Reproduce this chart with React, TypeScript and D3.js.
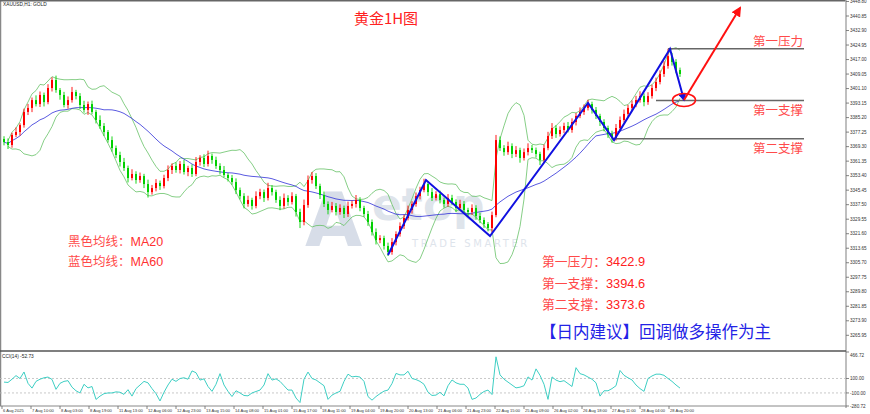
import React from "react";
import * as d3 from "d3";

// ---------- data ----------
const firstOpen = 3373.5;
const closes = [
  3371.8,3370.2,3375.7,3377.3,3381.1,3388.3,3390.5,3394.8,3392.6,3397.6,
  3393.7,3401.4,3405.8,3400.3,3397.6,3392.1,3394.8,3399.2,3397.0,3392.1,
  3389.4,3392.6,3388.3,3383.9,3380.6,3377.3,3372.9,3368.5,3364.7,3360.9,
  3357.6,3352.1,3354.3,3351.0,3353.2,3348.8,3344.4,3346.6,3349.4,3347.7,
  3352.1,3356.5,3358.7,3356.5,3359.8,3355.4,3357.6,3354.3,3360.9,3363.1,
  3359.8,3364.2,3362.0,3358.7,3356.5,3353.8,3352.1,3349.9,3345.5,3342.2,
  3337.9,3340.1,3336.8,3342.2,3344.4,3341.2,3346.6,3344.4,3340.1,3336.8,
  3341.2,3339.0,3342.2,3333.5,3328.0,3337.3,3351.0,3353.2,3347.7,3342.8,
  3337.9,3334.6,3336.8,3333.5,3335.7,3332.4,3336.8,3337.9,3340.1,3335.7,
  3332.4,3328.0,3322.5,3318.1,3319.2,3314.9,3311.6,3317.0,3321.4,3325.8,
  3330.2,3334.6,3337.9,3342.2,3345.5,3348.8,3344.4,3341.2,3343.3,3340.1,
  3337.9,3341.2,3339.0,3335.7,3337.9,3334.6,3333.5,3335.7,3331.3,3329.1,
  3326.9,3324.7,3331.8,3372.9,3368.5,3366.3,3369.6,3365.3,3367.4,3363.1,
  3366.3,3368.5,3367.4,3365.3,3362.0,3368.5,3375.1,3379.5,3376.2,3378.4,
  3380.6,3378.4,3382.8,3386.1,3388.3,3390.5,3392.6,3389.4,3386.1,3382.8,
  3379.5,3376.2,3374.0,3379.5,3383.9,3387.2,3390.5,3392.6,3394.8,3397.0,
  3393.7,3397.0,3401.4,3404.7,3409.1,3413.5,3418.9,3415.7,3411.3,3409.1,
];
const wickUp = [
  1.5,2.0,1.2,2.5,1.0,1.8,2.2,1.4,2.6,1.9,
  1.3,2.1,1.5,2.4,1.1,1.7,2.0,2.8,1.2,1.6,
  2.3,1.4,1.9,1.2,2.5,1.6,1.1,2.0,1.4,1.8,
  2.2,1.3,2.6,1.5,1.9,1.2,2.4,1.7,2.1,1.3,
  1.8,2.5,1.4,2.0,1.6,2.3,1.2,1.9,2.7,1.5,
  2.0,2.9,1.3,1.8,1.5,2.2,1.1,1.7,2.0,1.4,
  1.6,2.3,1.2,2.6,1.8,1.4,2.9,1.6,1.3,2.0,
  2.4,1.5,2.1,1.2,1.8,3.0,2.5,2.2,1.6,1.3,
  1.9,1.4,2.2,1.6,2.0,1.3,2.4,1.8,2.7,1.5,
  1.2,1.7,1.4,2.0,1.6,1.3,1.8,2.2,1.5,2.0,
  1.7,2.4,1.5,2.0,1.8,2.9,1.4,2.2,1.6,1.9,
  1.3,2.1,1.7,1.4,2.3,1.6,1.2,2.0,1.5,1.8,
  1.4,1.1,1.9,2.8,2.0,1.6,2.4,1.5,2.2,1.3,
  2.0,2.6,1.7,1.4,1.2,1.9,2.3,2.7,1.5,2.0,
  1.8,2.2,2.0,1.6,2.5,1.9,2.4,1.3,1.6,1.2,
  1.5,1.3,1.8,2.2,1.9,2.4,1.7,2.0,2.3,2.6,
  1.5,2.1,1.8,2.4,2.0,2.6,4.0,1.8,1.5,1.3,
];
const wickDown = [
  1.8,2.2,1.5,1.2,2.0,1.4,1.7,2.3,1.3,1.6,
  2.4,1.2,1.9,1.5,2.6,1.3,2.0,1.4,1.8,2.2,
  1.5,2.7,1.3,1.9,1.6,2.2,1.4,2.0,1.7,2.5,
  1.6,2.4,1.3,2.0,1.5,2.2,3.0,1.4,1.8,2.1,
  1.3,1.7,2.2,1.5,1.9,1.4,2.3,1.6,1.2,2.0,
  1.7,1.4,2.1,1.6,2.4,1.3,1.9,1.5,2.2,1.8,
  2.4,1.5,2.0,1.3,1.7,2.2,1.4,1.9,1.6,2.3,
  1.5,2.1,1.4,2.5,3.3,1.8,1.5,2.0,1.6,2.2,
  1.7,2.4,1.3,1.9,1.5,2.2,1.6,1.4,2.0,1.8,
  1.6,2.1,1.9,2.4,1.7,2.0,2.2,1.5,1.8,1.4,
  1.6,1.3,2.0,1.5,1.8,1.2,2.1,1.7,1.4,1.9,
  2.0,1.5,1.8,2.3,1.4,1.9,2.2,1.6,2.0,1.7,
  2.1,1.8,2.4,1.2,1.6,2.0,1.5,2.3,1.7,2.6,
  1.4,1.8,1.6,2.0,2.8,1.5,1.2,1.6,2.1,1.4,
  1.7,1.3,1.5,1.9,1.2,1.6,1.4,2.0,1.7,2.2,
  1.8,2.1,2.5,1.4,1.6,1.3,1.8,1.5,1.7,1.4,
  2.3,1.5,1.4,1.7,1.3,1.6,1.5,2.0,1.8,1.6,
];
const cciValues = [
  50,45,90,140,100,190,33,-33,60,90,
  110,120,87,-50,33,60,70,-20,-70,-100,
  20,-30,-11,-190,-144,-110,-100,-100,-85,-90,
  -120,-55,-144,-40,10,60,40,-40,-110,-211,
  -90,10,90,60,100,110,90,205,180,78,
  95,-11,-78,20,167,10,-78,-150,-70,-100,
  -135,-140,-100,-80,-60,10,167,78,95,60,
  0,-60,-60,-170,-233,90,189,100,80,40,
  0,-189,-130,-100,-78,60,160,122,130,120,
  60,-150,-200,-150,-110,-75,-60,30,170,150,
  150,200,100,85,60,20,-90,-135,-130,-91,
  -140,0,80,40,20,20,-33,-189,-170,-120,
  -80,-60,-122,400,150,90,50,10,-30,-20,
  0,122,78,233,144,20,-189,122,78,56,
  70,30,-11,250,167,150,120,90,40,-144,
  -70,-70,-40,0,211,144,110,80,10,-40,
  -78,100,135,160,160,144,100,60,10,-33,
];
const priceTicks = [
  3448.80,3440.85,3432.90,3424.95,3417.00,3409.05,3401.10,3393.15,3385.20,3377.25,
  3369.30,3361.35,3353.40,3345.45,3337.50,3329.55,3321.60,3313.65,3305.70,3297.75,
  3289.80,3281.85,3273.90,3265.95,
];
const cciTicks = [466.72, 100.0, -100.0, -280.72];
const cciGuides = [100, -100];
const timeLabels = [
  "6 Aug 2025","7 Aug 10:00","8 Aug 03:00","8 Aug 19:00","11 Aug 13:00","12 Aug 06:00",
  "12 Aug 23:00","13 Aug 15:00","14 Aug 08:00","15 Aug 01:00","15 Aug 17:00","18 Aug 11:00",
  "19 Aug 04:00","19 Aug 20:00","20 Aug 13:00","21 Aug 06:00","21 Aug 23:00","22 Aug 15:00",
  "25 Aug 09:00","26 Aug 02:00","26 Aug 18:00","27 Aug 11:00","28 Aug 04:00","28 Aug 20:00",
];
const barsPerLabel = 7.25;
const levelNames = ["第一压力", "第一支撑", "第二支撑"];
const levelValues = [3422.9, 3394.6, 3373.6];
const levelStartBar = [166, 163, 152];
const levelEndBar = 200;
const waveBars = [96, 105.5, 121.5, 146, 152.5, 166.5, 170];
const wavePrices = [3309.9, 3351.0, 3320.3, 3393.2, 3372.9, 3422.8, 3394.8];
const arrowBars = [170, 184];
const arrowPrices = [3394.8, 3445.2];
const summaryNames = ["第一压力：", "第一支撑：", "第二支撑："];
const maNotes = [["黑色均线：", "MA20"], ["蓝色均线：", "MA60"]];

// indicator periods (scaled to the bar count drawn)
const BB_PERIOD = 9;
const MA_PERIOD = 26;

function rollingMean(arr: number[], n: number) {
  return arr.map((_, i) => d3.mean(arr.slice(Math.max(0, i - n + 1), i + 1)) as number);
}
function rollingDev(arr: number[], n: number) {
  return arr.map((_, i) => {
    const s = arr.slice(Math.max(0, i - n + 1), i + 1);
    return s.length > 1 ? Math.sqrt(d3.variance(s)! * (s.length - 1) / s.length) : 0;
  });
}

const W = 870, H = 414;
const axisX = 846;
const priceTop = 1, priceBottom = 350;
const cciTop = 352, cciBottom = 406;

export default function App() {
  const N = closes.length;
  const x = d3.scaleLinear().domain([0, N - 1]).range([4, 680]);
  const y = d3.scaleLinear().domain([3257.9, 3449.07]).range([priceBottom, priceTop]);
  const yc = d3.scaleLinear().domain([-280.72, 466.72]).range([cciBottom, cciTop]);

  const candles = closes.map((c, i) => {
    const o = i === 0 ? firstOpen : closes[i - 1];
    return { i, o, c, h: Math.max(o, c) + wickUp[i], l: Math.min(o, c) - wickDown[i] };
  });
  const mid = rollingMean(closes, BB_PERIOD);
  const dev = rollingDev(closes, BB_PERIOD);
  const upper = mid.map((m, i) => m + 2 * dev[i]);
  const lower = mid.map((m, i) => m - 2 * dev[i]);
  const ma = rollingMean(closes, MA_PERIOD);

  const line = d3.line<number>().x((_, i) => x(i)).y((v) => y(v));
  const bbLine = d3.line<number>().x((_, i) => x(i + 1)).y((v) => y(v));
  const cciLine = d3.line<number>().x((_, i) => x(i)).y((v) => yc(v));
  const wavePath = d3.line<number>().x((b) => x(b)).y((_, i) => y(wavePrices[i]))(waveBars);
  const arrowPath = d3.line<number>().x((b) => x(b)).y((_, i) => y(arrowPrices[i]))(arrowBars);

  const cjk = "'Noto Sans CJK SC', sans-serif";
  const small = "'Liberation Sans', Arial, sans-serif";

  return (
    <svg width={W} height={H} style={{ position: "absolute", left: 0, top: 0, background: "#fff" }}>
      <defs>
        <marker id="ab" viewBox="0 0 10 10" refX="8" refY="5" markerWidth="4" markerHeight="4" orient="auto">
          <path d="M0,0 L10,5 L0,10 z" fill="#1010e0" />
        </marker>
        <marker id="ar" viewBox="0 0 10 10" refX="8" refY="5" markerWidth="5" markerHeight="5" orient="auto">
          <path d="M0,0 L10,5 L0,10 z" fill="#ff1010" />
        </marker>
        <clipPath id="pc"><rect x={0} y={priceTop} width={axisX} height={priceBottom - priceTop} /></clipPath>
      </defs>
      <rect x={0} y={0} width={W} height={H} fill="#fff" />

      {/* watermark */}
      <g opacity={0.55} fontFamily="'DejaVu Sans', sans-serif">
        <text x={305} y={246} fontSize={74} fill="#b7c3d6" fontWeight="bold">A</text>
        <text x={372} y={220} fontSize={44} fill="#c4cedc" fontWeight="bold">etop</text>
        <text x={412} y={247} fontSize={10} fill="#c4cedc" letterSpacing={2.6}>TRADE SMARTER</text>
      </g>

      {/* frame */}
      <line x1={0.5} y1={0} x2={0.5} y2={cciBottom} stroke="#888" strokeWidth={1.5} />
      <line x1={0} y1={0.75} x2={axisX} y2={0.75} stroke="#666" strokeWidth={1.5} />
      <line x1={axisX} y1={0} x2={axisX} y2={cciBottom + 2} stroke="#aaa" strokeWidth={1.5} />
      <line x1={0} y1={351} x2={axisX} y2={351} stroke="#555" strokeWidth={1.6} />
      <line x1={0} y1={cciBottom} x2={axisX} y2={cciBottom} stroke="#888" strokeWidth={1} />

      {/* header texts */}
      <text x={3} y={6} fontSize={4.8} fontFamily={small} fill="#222">XAUUSD,H1:  GOLD</text>
      <text x={386} y={24} fontSize={15} fontFamily={cjk} fill="#ff2020" textAnchor="middle">黄金1H图</text>

      {/* price panel */}
      <g clipPath="url(#pc)">
        <path d={bbLine(upper.slice(1)) || ""} fill="none" stroke="#67c267" strokeWidth={0.8} />
        <path d={bbLine(lower.slice(1)) || ""} fill="none" stroke="#67c267" strokeWidth={0.8} />
        <path d={line(ma) || ""} fill="none" stroke="#3030d8" strokeWidth={0.8} />
        {candles.map((d) => {
          const col = d.c >= d.o ? "#ff0000" : "#00d000";
          const top = y(Math.max(d.o, d.c));
          const bh = Math.max(1, y(Math.min(d.o, d.c)) - top);
          return (
            <g key={d.i}>
              <line x1={x(d.i)} x2={x(d.i)} y1={y(d.h)} y2={y(d.l)} stroke={col} strokeWidth={0.9} />
              <rect x={x(d.i) - 1} y={top} width={2} height={bh} fill={col} />
            </g>
          );
        })}
      </g>

      {/* levels */}
      {levelValues.map((v, k) => (
        <g key={k}>
          <line x1={x(levelStartBar[k])} x2={x(levelEndBar)} y1={y(v)} y2={y(v)} stroke="#666" strokeWidth={1.6} />
          <text x={753} y={k === 0 ? y(v) - 3 : y(v) + 14.5} fontSize={12.5} fontFamily={cjk} fill="#ff4a4a">
            {levelNames[k]}
          </text>
        </g>
      ))}

      {/* wave & arrow */}
      <path d={wavePath || ""} fill="none" stroke="#1010e0" strokeWidth={2} markerEnd="url(#ab)" />
      <path d={arrowPath || ""} fill="none" stroke="#ff1010" strokeWidth={2} markerEnd="url(#ar)" />
      <ellipse cx={x(arrowBars[0])} cy={y(arrowPrices[0])} rx={11.5} ry={6.5} fill="none" stroke="#ff1010" strokeWidth={1.5} />

      {/* annotations */}
      {maNotes.map((m, k) => (
        <text key={k} x={68} y={246 + k * 20} fontSize={12.5} fill="#ff3030">
          <tspan fontFamily={cjk} fill="#ff4a4a">{m[0]}</tspan>
          <tspan fontFamily={small}>{m[1]}</tspan>
        </text>
      ))}
      {summaryNames.map((n, k) => (
        <text key={k} x={542} y={266 + k * 21.7} fontSize={12.8} fill="#ff2020">
          <tspan fontFamily={cjk} fill="#ff4a4a">{n}</tspan>
          <tspan fontFamily={small}>{levelValues[k].toFixed(1)}</tspan>
        </text>
      ))}
      <text x={540} y={337.5} fontSize={16.5} fontFamily={cjk} fill="#2323e6">【日内建议】回调做多操作为主</text>

      {/* price axis */}
      {priceTicks.map((t) => (
        <g key={t}>
          <line x1={axisX} x2={axisX + 3} y1={y(t)} y2={y(t)} stroke="#666" strokeWidth={0.8} />
          <text x={axisX + 4} y={y(t) + 1.6} fontSize={4.6} fontFamily={small} fill="#333">{t.toFixed(2)}</text>
        </g>
      ))}

      {/* CCI panel */}
      {cciGuides.map((g) => (
        <line key={g} x1={0} x2={axisX} y1={yc(g)} y2={yc(g)} stroke="#bbb" strokeWidth={0.8} strokeDasharray="2,2" />
      ))}
      <path d={cciLine(cciValues) || ""} fill="none" stroke="#3ecfc4" strokeWidth={1} />
      <text x={2} y={358} fontSize={4.8} fontFamily={small} fill="#222">CCI(14) -52.73</text>
      {cciTicks.map((t) => {
        const ty = Math.min(Math.max(yc(t), 355), cciBottom);
        return (
          <g key={t}>
            <line x1={axisX} x2={axisX + 3} y1={yc(t)} y2={yc(t)} stroke="#666" strokeWidth={0.8} />
            <text x={axisX + 4} y={ty + 1.6} fontSize={4.6} fontFamily={small} fill="#333">{t.toFixed(2)}</text>
          </g>
        );
      })}

      {/* time axis */}
      {timeLabels.map((lab, k) => {
        const tx = x(k * barsPerLabel - 0.5);
        return (
          <g key={lab}>
            <line x1={tx} x2={tx} y1={cciBottom} y2={cciBottom + 3} stroke="#666" strokeWidth={0.8} />
            <text x={tx + 1} y={412} fontSize={4.1} fontFamily={small} fill="#333">{lab}</text>
          </g>
        );
      })}
    </svg>
  );
}
